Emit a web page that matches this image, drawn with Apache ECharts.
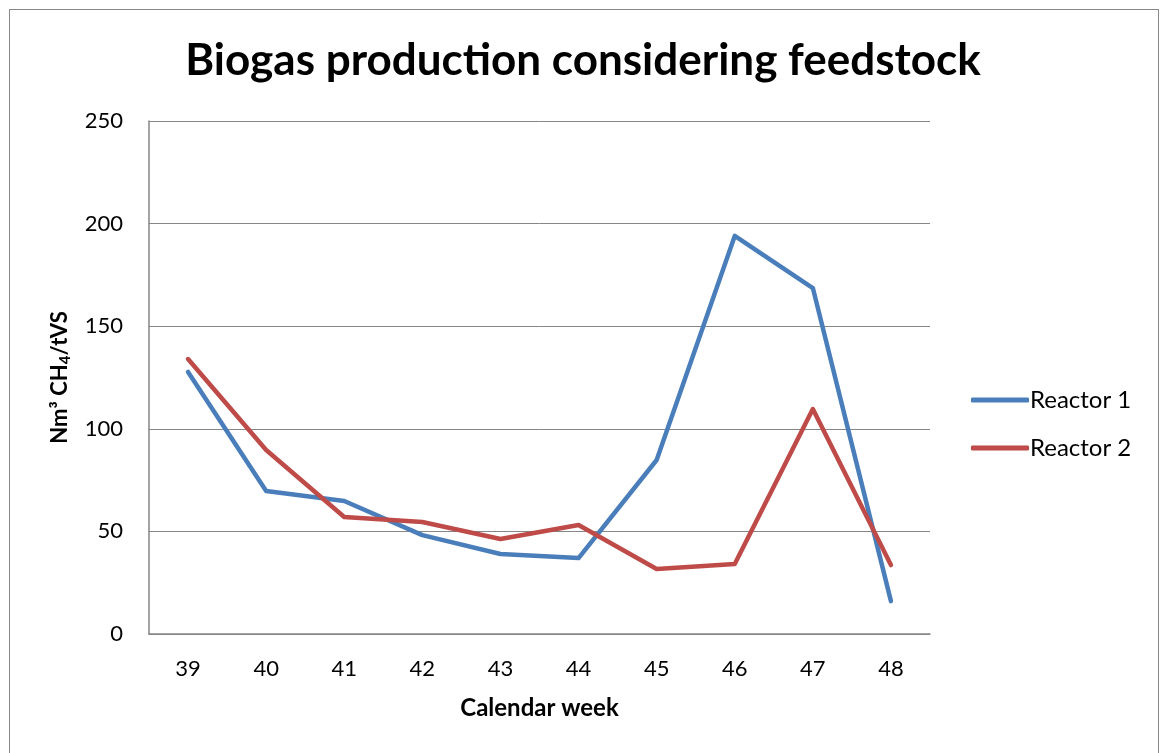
<!DOCTYPE html>
<html>
<head>
<meta charset="utf-8">
<script src="https://cdn.jsdelivr.net/npm/echarts@6/dist/echarts.min.js"></script>
<style>
  html, body { margin: 0; padding: 0; background: #fff; }
  #frame { position: absolute; left: 9px; top: 9px; width: 1148px; height: 760px; border: 1px solid #888; }
  #chart { position: absolute; left: 0; top: 0; width: 1166px; height: 753px; }
</style>
</head>
<body>
<div id="frame"></div>
<div id="chart"></div>
<script>
// 数据
var weeks = ["39", "40", "41", "42", "43", "44", "45", "46", "47", "48"];
var reactor1 = [127.7, 69.7, 64.8, 48.2, 39, 37, 84.8, 194, 168.6, 16];
var reactor2 = [134, 89.7, 57, 54.6, 46.3, 53.1, 31.7, 34.1, 109.6, 33.6];

var font = "Lato, 'Open Sans', sans-serif";
var chart = echarts.init(document.getElementById("chart"));
var option = {
  animation: false,
  title: {
    text: "Biogas production considering feedstock",
    left: "center",
    top: 34,
    textStyle: { fontFamily: font, fontSize: 44, fontWeight: "bold", color: "#000" }
  },
  legend: {
    orient: "vertical",
    left: 966,
    top: 383,
    itemWidth: 58,
    itemHeight: 5,
    itemGap: 24,
    icon: "roundRect",
    textStyle: { fontFamily: font, fontSize: 24, color: "#000", padding: [0, 0, 0, -4] },
    data: ["Reactor 1", "Reactor 2"]
  },
  grid: { left: 149, right: 236, top: 121, bottom: 119 },
  xAxis: {
    type: "category",
    data: weeks,
    boundaryGap: true,
    name: "Calendar week",
    nameLocation: "middle",
    nameGap: 62,
    nameTextStyle: { fontFamily: font, fontSize: 24, fontWeight: "bold", color: "#000" },
    axisLine: { lineStyle: { color: "#868686", width: 1.5 } },
    axisTick: { show: false },
    axisLabel: { fontFamily: font, fontSize: 22, color: "#000", margin: 24 }
  },
  yAxis: {
    type: "value",
    min: 0,
    max: 250,
    interval: 50,
    name: "{n|Nm³ CH}{s|4}{n|/tVS}",
    nameLocation: "middle",
    nameRotate: 90,
    nameGap: 76,
    nameTextStyle: {
      rich: {
        n: { fontFamily: font, fontSize: 22, fontWeight: "bold", color: "#000" },
        s: { fontFamily: font, fontSize: 15, fontWeight: "bold", color: "#000", padding: [12, 0, 0, 0] }
      }
    },
    axisLine: { show: true, lineStyle: { color: "#868686", width: 1.5 } },
    axisTick: { show: false },
    splitLine: { lineStyle: { color: "#868686", width: 1 } },
    axisLabel: { fontFamily: font, fontSize: 22, color: "#000", margin: 26 }
  },
  series: [
    {
      name: "Reactor 1",
      type: "line",
      data: reactor1,
      symbol: "none",
      lineStyle: { color: "#4a7ebb", width: 4.5, cap: "round", join: "round" },
      itemStyle: { color: "#4a7ebb" }
    },
    {
      name: "Reactor 2",
      type: "line",
      data: reactor2,
      symbol: "none",
      lineStyle: { color: "#be4b48", width: 4.5, cap: "round", join: "round" },
      itemStyle: { color: "#be4b48" }
    }
  ]
};
chart.setOption(option);
</script>
</body>
</html>
